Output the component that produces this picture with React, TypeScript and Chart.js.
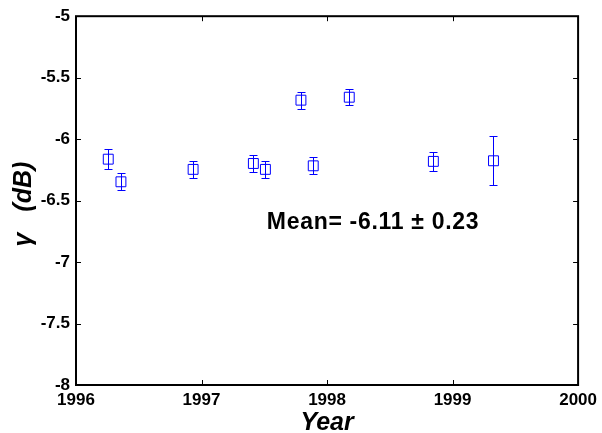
import React, { useEffect, useRef } from "react";
import { Chart, registerables } from "chart.js";

Chart.register(...registerables);

const YEARS = [1996.257, 1996.358, 1996.933, 1997.413, 1997.509, 1997.792, 1997.89, 1998.177, 1998.847, 1999.326];
const GAMMA = [-6.163, -6.347, -6.246, -6.198, -6.246, -5.683, -6.217, -5.659, -6.181, -6.176];
const ERRS = [0.081, 0.069, 0.069, 0.069, 0.069, 0.068, 0.068, 0.063, 0.079, 0.2];
const X_TICKS = [1996, 1997, 1998, 1999, 2000];
const Y_TICKS = [-8, -7.5, -7, -6.5, -6, -5.5, -5];
const MEAN_LABEL = "Mean= -6.11 \u00b1 0.23";
const MEAN_POS = [1997.52, -6.68];
const X_TITLE = "Year";
const Y_TITLE = "\u03b3   (dB) ";

const FONT = 'Arial, "Liberation Sans", Helvetica, sans-serif';
const BLUE = "#0000ff";

const frameTicks = {
  id: "frameTicks",
  afterDraw(chart: any) {
    const { ctx, chartArea, scales } = chart;
    const { left, right, top, bottom } = chartArea;
    const x = scales.x;
    const y = scales.y;
    ctx.save();
    ctx.strokeStyle = "#000";
    ctx.lineWidth = 1;
    ctx.beginPath();
    for (const t of x.ticks) {
      const px = Math.round(x.getPixelForValue(t.value)) + 0.5;
      ctx.moveTo(px, bottom);
      ctx.lineTo(px, bottom - 5);
      ctx.moveTo(px, top);
      ctx.lineTo(px, top + 5);
    }
    for (const t of y.ticks) {
      const py = Math.round(y.getPixelForValue(t.value)) + 0.5;
      ctx.moveTo(left, py);
      ctx.lineTo(left + 5, py);
      ctx.moveTo(right, py);
      ctx.lineTo(right - 5, py);
    }
    ctx.stroke();
    ctx.lineWidth = 2;
    ctx.strokeRect(left, top, right - left, bottom - top);
    ctx.fillStyle = "#000";
    ctx.font = `bold 23px ${FONT}`;
    try {
      (ctx as any).letterSpacing = "0.7px";
    } catch (e) {}
    ctx.textAlign = "left";
    ctx.textBaseline = "middle";
    ctx.fillText(MEAN_LABEL, x.getPixelForValue(MEAN_POS[0]), y.getPixelForValue(MEAN_POS[1]));
    try {
      (ctx as any).letterSpacing = "0px";
    } catch (e) {}
    ctx.restore();
  },
};

const errorBars = {
  id: "errorBars",
  afterDatasetsDraw(chart: any) {
    const { ctx, scales } = chart;
    const x = scales.x;
    const y = scales.y;
    ctx.save();
    ctx.strokeStyle = BLUE;
    ctx.lineWidth = 1;
    ctx.beginPath();
    YEARS.forEach((yr, i) => {
      const px = Math.round(x.getPixelForValue(yr)) + 0.5;
      const yTop = Math.round(y.getPixelForValue(GAMMA[i] + ERRS[i])) + 0.5;
      const yBot = Math.round(y.getPixelForValue(GAMMA[i] - ERRS[i])) + 0.5;
      ctx.moveTo(px, yTop);
      ctx.lineTo(px, yBot);
      ctx.moveTo(px - 4, yTop);
      ctx.lineTo(px + 4, yTop);
      ctx.moveTo(px - 4, yBot);
      ctx.lineTo(px + 4, yBot);
    });
    ctx.stroke();
    ctx.restore();
  },
};

export default function App() {
  const ref = useRef<HTMLCanvasElement | null>(null);
  useEffect(() => {
    if (!ref.current) return;
    Chart.defaults.font.family = FONT;
    Chart.defaults.color = "#000";
    const chart = new Chart(ref.current, {
      type: "scatter",
      data: {
        datasets: [
          {
            data: YEARS.map((yr, i) => ({ x: yr, y: GAMMA[i] })),
            pointStyle: "rect",
            pointRadius: 7,
            pointBorderWidth: 1,
            pointBorderColor: BLUE,
            pointBackgroundColor: "rgba(0,0,0,0)",
            showLine: false,
          },
        ],
      },
      options: {
        animation: false,
        responsive: false,
        events: [],
        layout: { padding: { left: 0, right: 23, top: 16, bottom: 0 } },
        plugins: { legend: { display: false }, tooltip: { enabled: false } },
        scales: {
          x: {
            type: "linear",
            min: 1996,
            max: 2000,
            afterBuildTicks: (s: any) => {
              s.ticks = X_TICKS.map((v) => ({ value: v }));
            },
            afterFit: (s: any) => {
              s.height = 48;
            },
            grid: { display: false, drawTicks: false },
            border: { display: false },
            ticks: {
              padding: 5,
              maxRotation: 0,
              font: { size: 17, weight: "bold", lineHeight: 1.2 },
              callback: (v: any) => String(v),
            },
            title: {
              display: true,
              text: X_TITLE,
              font: { size: 25, weight: "bold", style: "italic", lineHeight: 0.8 },
              padding: { top: 0, bottom: 0 },
            },
          },
          y: {
            type: "linear",
            min: -8,
            max: -5,
            afterBuildTicks: (s: any) => {
              s.ticks = Y_TICKS.map((v) => ({ value: v }));
            },
            afterFit: (s: any) => {
              s.width = 76;
            },
            grid: { display: false, drawTicks: false },
            border: { display: false },
            ticks: {
              padding: 6,
              font: { size: 17, weight: "bold", lineHeight: 1.2 },
              callback: (v: any) => String(v),
            },
            title: {
              display: true,
              text: Y_TITLE,
              font: { size: 25, weight: "bold", style: "italic", lineHeight: 0.87 },
              padding: { top: 13.5, bottom: 0 },
            },
          },
        },
      },
      plugins: [errorBars, frameTicks],
    });
    return () => chart.destroy();
  }, []);
  return (
    <div style={{ position: "absolute", left: 0, top: 0, width: 602, height: 433, background: "#fff" }}>
      <canvas ref={ref} width={602} height={433} style={{ display: "block" }} />
    </div>
  );
}
